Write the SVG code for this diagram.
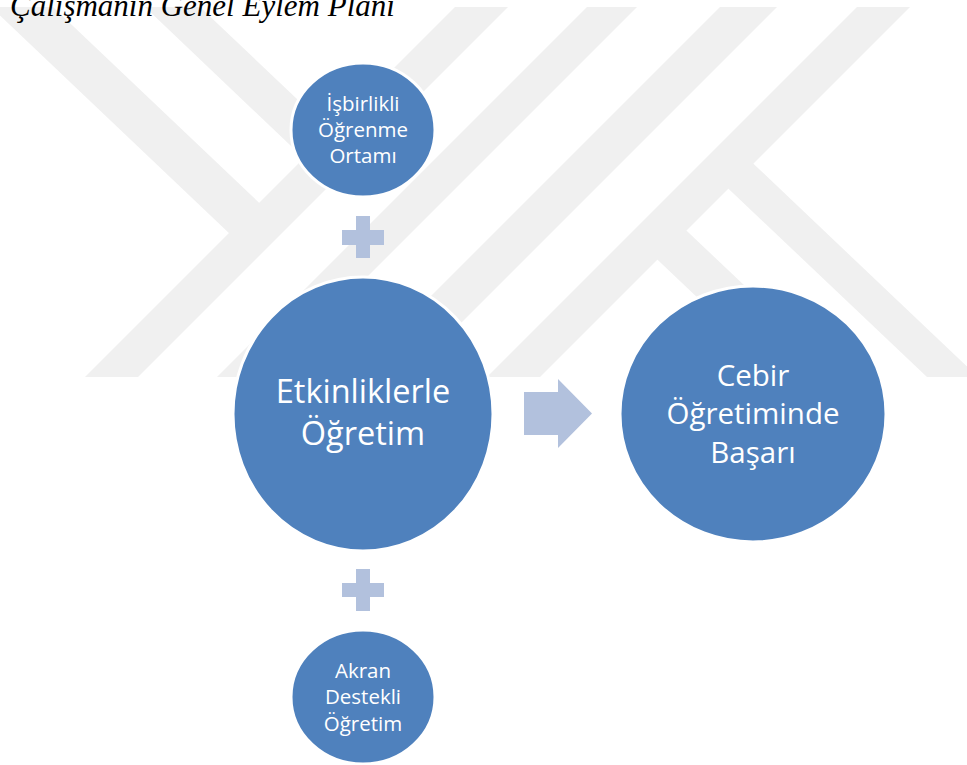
<svg xmlns="http://www.w3.org/2000/svg" width="967" height="765" viewBox="0 0 967 765">
  <style>
    .bg { fill: #ffffff; }
    .mark { fill: #f0f0f0; }
    .node { fill: #4f81bd; stroke: #ffffff; stroke-width: 3; }
    .op { fill: #b2c1dd; }
    .lbl { font-family: "Open Sans", "Noto Sans", sans-serif; fill: #ffffff; text-anchor: middle; }
    .sm { font-size: 20.5px; }
    .md { font-size: 29.5px; }
    .lg { font-size: 32.5px; }
    .title { font-family: "Liberation Serif", "Times New Roman", serif; font-style: italic; font-size: 31px; fill: #000000; }
  </style>
  <defs>
    <clipPath id="markClip">
      <rect x="0" y="7" width="967" height="370"/>
    </clipPath>
  </defs>

  <rect class="bg" x="0" y="0" width="967" height="765"/>

  <!-- pale striped emblem behind the chart -->
  <g id="emblem" class="mark" clip-path="url(#markClip)">
    <polygon points="455,7 508,7 138,377 85,377"/>
    <polygon points="587,7 637,7 267,377 217,377"/>
    <polygon points="720,7 777,7 407,377 350,377"/>
    <polygon points="857,7 910,7 540,377 487,377"/>
    <polygon points="-9,7 53,7 272,215 241.5,245"/>
    <polygon points="145,7 200,7 335,135 311,165"/>
    <polygon points="739,150 978,377 927,377 714,175"/>
    <polygon points="670,215 841,377 781,377 642,245"/>
  </g>

  <text class="title" x="10" y="15.5">Çalışmanın Genel Eylem Planı</text>

  <!-- operators: plus signs and result arrow -->
  <g id="connectors">
    <path class="op" d="M356,216 H370 V230 H384 V245 H370 V258 H356 V245 H342 V230 H356 Z"/>
    <path class="op" d="M356,569 H370 V583 H384 V597 H370 V611 H356 V597 H342 V583 H356 Z"/>
    <polygon class="op" points="524,392 558,392 558,379 592,413.5 558,448 558,435 524,435"/>
  </g>

  <g id="node-isbirlikli">
    <ellipse class="node" cx="363" cy="130" rx="72" ry="67"/>
    <text class="lbl sm" x="363" y="111">İşbirlikli</text>
    <text class="lbl sm" x="363" y="137">Öğrenme</text>
    <text class="lbl sm" x="363" y="163">Ortamı</text>
  </g>

  <g id="node-etkinlik">
    <ellipse class="node" cx="363" cy="414" rx="130" ry="137"/>
    <text class="lbl lg" x="363" y="403">Etkinliklerle</text>
    <text class="lbl lg" x="363" y="445">Öğretim</text>
  </g>

  <g id="node-akran">
    <ellipse class="node" cx="363" cy="697" rx="72" ry="67"/>
    <text class="lbl sm" x="363" y="678">Akran</text>
    <text class="lbl sm" x="363" y="704">Destekli</text>
    <text class="lbl sm" x="363" y="731">Öğretim</text>
  </g>

  <g id="node-basari">
    <ellipse class="node" cx="753" cy="414" rx="133" ry="128"/>
    <text class="lbl md" x="753" y="386">Cebir</text>
    <text class="lbl md" x="753" y="424">Öğretiminde</text>
    <text class="lbl md" x="753" y="463">Başarı</text>
  </g>
</svg>
